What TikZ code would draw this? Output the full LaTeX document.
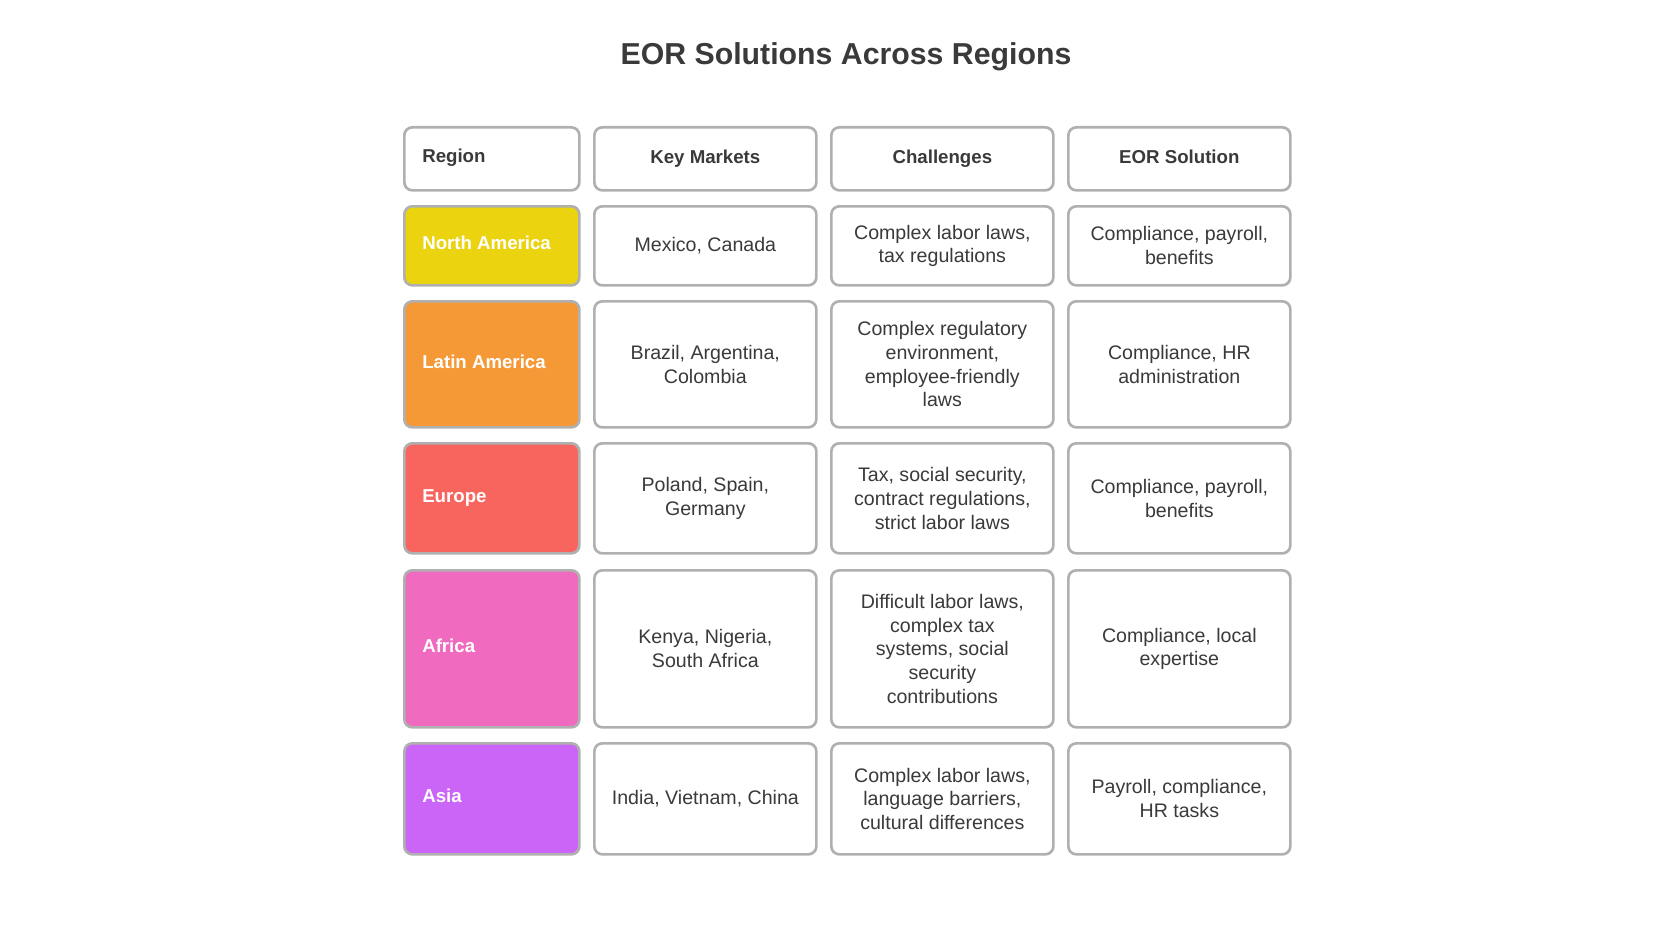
\documentclass[tikz,border=0pt]{standalone}
\usepackage{fontspec}
\setmainfont{Liberation Sans}
\definecolor{bordergray}{HTML}{B0B0B0}
\definecolor{txt}{HTML}{3A3A3A}
\definecolor{cNA}{HTML}{EBD30F}
\definecolor{cLA}{HTML}{F59937}
\definecolor{cEU}{HTML}{F8655F}
\definecolor{cAF}{HTML}{F06ABF}
\definecolor{cAS}{HTML}{CB65F8}
\tikzset{
  cell/.style={draw=bordergray, line width=2pt, rounded corners=6pt, fill=white, anchor=north west, inner sep=0pt},
  wide/.style={minimum width=166.5pt},
  narrow/.style={minimum width=131.25pt},
  body/.style={font=\fontsize{14.7pt}{17.8pt}\selectfont, text=txt, align=center},
  headtxt/.style={font=\fontsize{14pt}{17.8pt}\selectfont\bfseries, text=txt, inner sep=0pt, text height=10pt, text depth=3pt},
  reg/.style={font=\fontsize{14pt}{17.8pt}\selectfont\bfseries, text=white, anchor=west, inner sep=0pt, text height=10pt, text depth=3pt},
}
\begin{document}
\begin{tikzpicture}[x=0.75pt,y=-0.75pt]
\useasboundingbox (0,0) rectangle (1680,945);
\node[font=\fontsize{22.7pt}{27pt}\selectfont\bfseries, text=txt] (title) at (846,57) {EOR Solutions Across Regions};
% header
\node[cell,narrow,minimum height=47.25pt] (h1) at (403,126) {};
\node[reg,text=txt] (h1t) at (422,158) {Region};
\node[cell,wide,minimum height=47.25pt] (h2) at (593,126) {};
\node[headtxt] (h2t) at (h2.center) {Key Markets};
\node[cell,wide,minimum height=47.25pt] (h3) at (830,126) {};
\node[headtxt] (h3t) at (h3.center) {Challenges};
\node[cell,wide,minimum height=47.25pt] (h4) at (1067,126) {};
\node[headtxt] (h4t) at (h4.center) {EOR Solution};
% North America
\node[cell,narrow,minimum height=59.25pt,fill=cNA] (r1) at (403,205) {};
\node[reg] (r1t) at (422,245) {North America};
\node[cell,wide,minimum height=59.25pt,body] (m1) at (593,205) {Mexico, Canada};
\node[cell,wide,minimum height=59.25pt,body] (c1) at (830,205) {Complex labor laws,\\tax regulations};
\node[cell,wide,minimum height=59.25pt,body] (s1) at (1067,205) {Compliance, payroll,\\benefits};
% Latin America
\node[cell,narrow,minimum height=94.5pt,fill=cLA] (r2) at (403,300) {};
\node[reg] (r2t) at (422,363.5) {Latin America};
\node[cell,wide,minimum height=94.5pt,body] (m2) at (593,300) {Brazil, Argentina,\\Colombia};
\node[cell,wide,minimum height=94.5pt,body] (c2) at (830,300) {Complex regulatory\\environment,\\employee-friendly\\laws};
\node[cell,wide,minimum height=94.5pt,body] (s2) at (1067,300) {Compliance, HR\\administration};
% Europe
\node[cell,narrow,minimum height=82.5pt,fill=cEU] (r3) at (403,442) {};
\node[reg] (r3t) at (422,497.5) {Europe};
\node[cell,wide,minimum height=82.5pt,body] (m3) at (593,442) {Poland, Spain,\\Germany};
\node[cell,wide,minimum height=82.5pt,body] (c3) at (830,442) {Tax, social security,\\contract regulations,\\strict labor laws};
\node[cell,wide,minimum height=82.5pt,body] (s3) at (1067,442) {Compliance, payroll,\\benefits};
% Africa
\node[cell,narrow,minimum height=117.75pt,fill=cAF] (r4) at (403,569) {};
\node[reg] (r4t) at (422,648) {Africa};
\node[cell,wide,minimum height=117.75pt,body] (m4) at (593,569) {Kenya, Nigeria,\\South Africa};
\node[cell,wide,minimum height=117.75pt,body] (c4) at (830,569) {Difficult labor laws,\\complex tax\\systems, social\\security\\contributions};
\node[cell,wide,minimum height=117.75pt,body] (s4) at (1067,569) {Compliance, local\\expertise};
% Asia
\node[cell,narrow,minimum height=83.25pt,fill=cAS] (r5) at (403,742) {};
\node[reg] (r5t) at (422,798) {Asia};
\node[cell,wide,minimum height=83.25pt,body] (m5) at (593,742) {India, Vietnam, China};
\node[cell,wide,minimum height=83.25pt,body] (c5) at (830,742) {Complex labor laws,\\language barriers,\\cultural differences};
\node[cell,wide,minimum height=83.25pt,body] (s5) at (1067,742) {Payroll, compliance,\\HR tasks};
\end{tikzpicture}
\end{document}
